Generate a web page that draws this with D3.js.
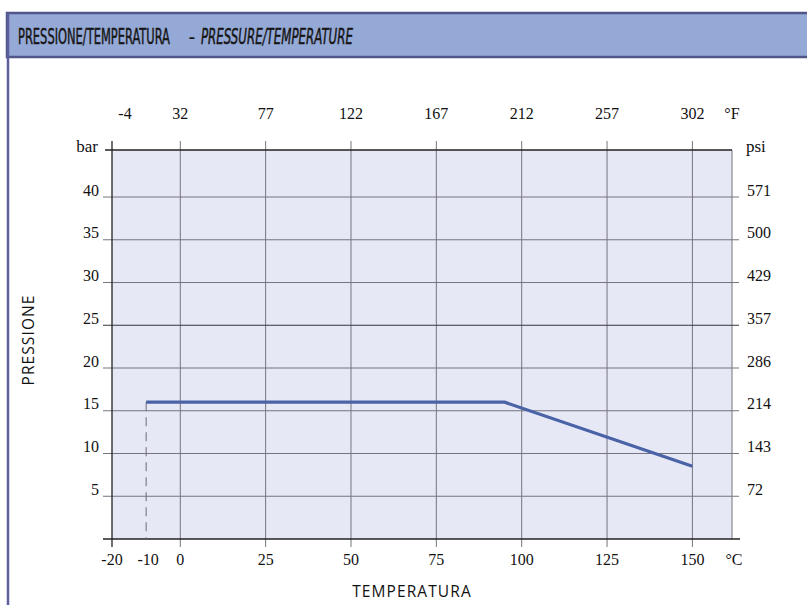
<!DOCTYPE html>
<html>
<head>
<meta charset="utf-8">
<script src="https://cdn.jsdelivr.net/npm/d3@7"></script>
<style>
  html, body { margin: 0; padding: 0; background: #ffffff; }
  svg { display: block; }
</style>
</head>
<body>
<svg id="chart" width="807" height="605"></svg>
<script>
// ---- data ----
const tempC = [-10, 95, 150];
const pressureBar = [16, 16, 8.5];
const cTicks = [0, 25, 50, 75, 100, 125, 150];
const cLabels = ["-20", "-10", "0", "25", "50", "75", "100", "125", "150"];
const cLabelValues = [-20, -10, 0, 25, 50, 75, 100, 125, 150];
const fLabels = ["-4", "32", "77", "122", "167", "212", "257", "302"];
const fLabelValues = [-20, 0, 25, 50, 75, 100, 125, 150];
const barTicks = [5, 10, 15, 20, 25, 30, 35, 40];
const psiLabels = ["72", "143", "214", "286", "357", "429", "500", "571"];
const titleIt = "PRESSIONE/TEMPERATURA";
const titleEn = "PRESSURE/TEMPERATURE";
const xTitle = "TEMPERATURA";
const yTitle = "PRESSIONE";

const svg = d3.select("#chart");
const x = d3.scaleLinear().domain([-20, 161.6]).range([112, 732]);
const y = d3.scaleLinear().domain([0, 45.5]).range([539, 150]);

// ---- frame / title bar ----
svg.append("rect").attr("x", 7).attr("y", 13).attr("width", 820).attr("height", 44)
  .attr("fill", "#95a9d7").attr("stroke", "#50558a").attr("stroke-width", 2.5);
svg.append("line").attr("x1", 8).attr("x2", 8).attr("y1", 13).attr("y2", 605)
  .attr("stroke", "#5c5f9c").attr("stroke-width", 2.5);

const tf = "'DejaVu Sans Condensed', 'DejaVu Sans', sans-serif";
function titlePart(str, x0, width, italic) {
  const t = svg.append("text").attr("x", 0).attr("y", 0)
    .attr("font-family", tf).attr("font-size", 22).attr("fill", "#161616")
    .attr("stroke", "#161616").attr("stroke-width", 0.5)
    .attr("font-style", italic ? "italic" : "normal").text(str);
  const w = t.node().getComputedTextLength();
  t.attr("transform", `translate(${x0},44) scale(${width / w},1)`);
}
titlePart(titleIt, 18, 152, false);
svg.append("text").attr("x", 192).attr("y", 44).attr("font-family", tf).attr("font-size", 21)
  .attr("fill", "#161616").attr("text-anchor", "middle").text("-");
titlePart(titleEn, 201, 152, true);

// ---- plot background ----
svg.append("rect").attr("x", x(-20)).attr("y", y(45.5))
  .attr("width", x(161.6) - x(-20)).attr("height", y(0) - y(45.5)).attr("fill", "#e6e8f6");

const g = svg.append("g");
// vertical grid lines
g.selectAll(".vg").data(cTicks).join("line")
  .attr("x1", d => x(d)).attr("x2", d => x(d)).attr("y1", y(45.5) - 9).attr("y2", y(0) + 8)
  .attr("stroke", "#74757f").attr("stroke-width", 1);
// right edge
g.append("line").attr("x1", x(161.6)).attr("x2", x(161.6)).attr("y1", y(45.5)).attr("y2", y(0))
  .attr("stroke", "#74757f").attr("stroke-width", 1);
// horizontal grid lines
g.selectAll(".hg").data(barTicks).join("line")
  .attr("x1", x(-20) - 9).attr("x2", x(161.6) + 7).attr("y1", d => y(d)).attr("y2", d => y(d))
  .attr("stroke", d => d === 25 ? "#34343e" : "#74757f").attr("stroke-width", 1);
// top border
g.append("line").attr("x1", x(-20) - 7).attr("x2", x(161.6)).attr("y1", y(45.5)).attr("y2", y(45.5))
  .attr("stroke", "#222").attr("stroke-width", 1.3);
// bottom axis line
g.append("line").attr("x1", x(-20) - 9).attr("x2", x(161.6) + 8).attr("y1", y(0)).attr("y2", y(0))
  .attr("stroke", "#222").attr("stroke-width", 1.3);
// left axis line
g.append("line").attr("x1", x(-20)).attr("x2", x(-20)).attr("y1", y(45.5) - 9).attr("y2", y(0) + 8)
  .attr("stroke", "#222").attr("stroke-width", 1.3);
// dashed line at -10
g.append("line").attr("x1", x(tempC[0])).attr("x2", x(tempC[0]))
  .attr("y1", y(pressureBar[0])).attr("y2", y(0))
  .attr("stroke", "#6a6a70").attr("stroke-width", 1).attr("stroke-dasharray", "9,6");

// ---- data line ----
const pts = tempC.map((t, i) => [t, pressureBar[i]]);
g.append("path").datum(pts)
  .attr("d", d3.line().x(d => x(d[0])).y(d => y(d[1])))
  .attr("fill", "none").attr("stroke", "#4a62a6").attr("stroke-width", 3.2);

// ---- labels ----
const sf = "'Liberation Serif', 'Times New Roman', serif";
const lab = svg.append("g").attr("font-family", sf).attr("font-size", 16).attr("fill", "#111");
// left bar labels
lab.selectAll(".lb").data(barTicks).join("text")
  .attr("x", 99).attr("y", d => y(d) - 1.5).attr("text-anchor", "end")
  .text(d => d);
lab.append("text").attr("x", 98).attr("y", 147).attr("dy", "0.3em").attr("font-size", 17)
  .attr("text-anchor", "end").text("bar");
// right psi labels
lab.selectAll(".rb").data(barTicks).join("text")
  .attr("x", 747).attr("y", d => y(d) - 1.5).attr("text-anchor", "start")
  .text((d, i) => psiLabels[i]);
lab.append("text").attr("x", 746).attr("y", 147).attr("dy", "0.3em").attr("font-size", 17).text("psi");
// bottom °C labels
lab.selectAll(".bc").data(cLabelValues).join("text")
  .attr("x", d => x(d) + (d === -10 ? 2 : 0)).attr("y", 559).attr("dy", "0.35em").attr("text-anchor", "middle")
  .text((d, i) => cLabels[i]);
lab.append("text").attr("x", 734).attr("y", 559).attr("dy", "0.35em").attr("text-anchor", "middle").text("°C");
// top °F labels
lab.selectAll(".tf").data(fLabelValues).join("text")
  .attr("x", d => x(d) + (d === -20 ? 13 : 0)).attr("y", 113).attr("dy", "0.35em").attr("text-anchor", "middle")
  .text((d, i) => fLabels[i]);
lab.append("text").attr("x", 732).attr("y", 113).attr("dy", "0.35em").attr("text-anchor", "middle").text("°F");

// axis titles
const af = "'Open Sans', 'DejaVu Sans', sans-serif";
svg.append("text").attr("x", 412).attr("y", 592).attr("dy", "0.35em").attr("text-anchor", "middle")
  .attr("font-family", af).attr("font-size", 15.5).attr("letter-spacing", 1.1).attr("fill", "#111").text(xTitle);
svg.append("text").attr("transform", "translate(29,340) rotate(-90)").attr("dy", "0.35em")
  .attr("text-anchor", "middle").attr("font-family", af).attr("font-size", 15.5)
  .attr("letter-spacing", 1.1).attr("fill", "#111").text(yTitle);
</script>
</body>
</html>
